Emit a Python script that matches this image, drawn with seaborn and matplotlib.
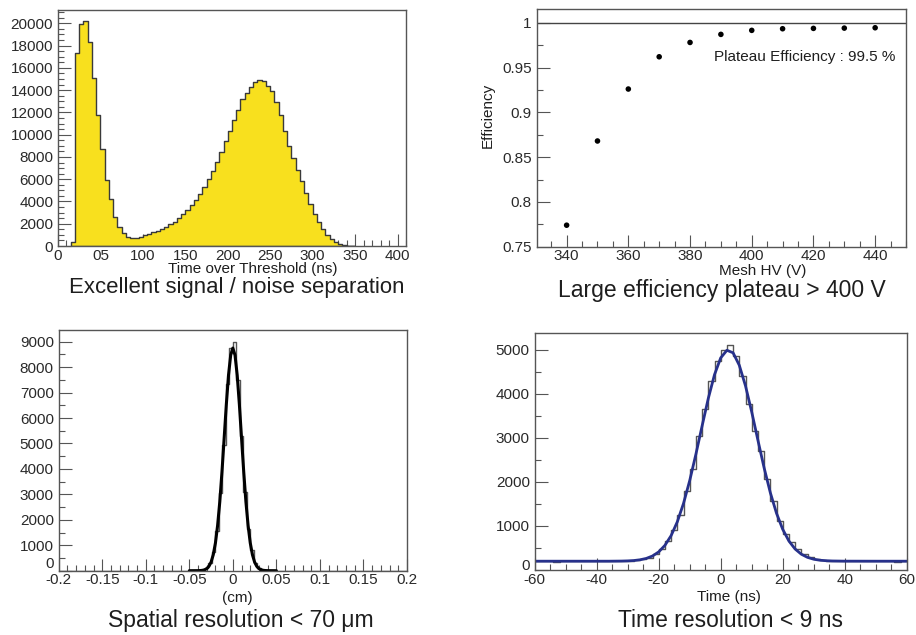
import numpy as np
import matplotlib.pyplot as plt
from matplotlib.ticker import MultipleLocator, FixedLocator, FixedFormatter
import seaborn as sns

# --- time over threshold (5 ns bins, left edges 15..345)
tot_left = np.arange(15, 350, 5)
tot_counts = [400, 17300, 19900, 20200, 18300, 15100, 11800, 8700, 5900, 4200,
              2600, 1700, 1150, 820, 720, 760, 850, 950, 1080, 1220,
              1380, 1540, 1720, 1940, 2200, 2500, 2850, 3250, 3650, 4150,
              4700, 5300, 6000, 6750, 7550, 8450, 9400, 10300, 11300, 12200,
              13200, 13700, 14250, 14700, 14900, 14800, 14400, 13900, 12900, 11800,
              10300, 9000, 7900, 6800, 5800, 4800, 3800, 2900, 2200, 1500,
              1000, 620, 330, 160, 80, 40, 15]

# --- efficiency vs mesh HV
hv = [340, 350, 360, 370, 380, 390, 400, 410, 420, 430, 440]
eff = [0.774, 0.868, 0.926, 0.962, 0.978, 0.987, 0.9915, 0.9933, 0.9937, 0.994, 0.9944]

# --- spatial residuals (0.004 cm bins, only non-empty ones listed)
sp_centers = [-0.038, -0.034, -0.030, -0.026, -0.022, -0.018, -0.014, -0.010, -0.006, -0.002,
              0.002, 0.006, 0.010, 0.014, 0.018, 0.022, 0.026, 0.030, 0.034, 0.038]
sp_counts = [10, 25, 90, 290, 720, 1550, 3050, 4950, 7350, 8750,
             9000, 7500, 5300, 3100, 1650, 800, 310, 100, 30, 10]
sp_fit_x = [-0.05, -0.04, -0.0375, -0.035, -0.0325, -0.03, -0.0275, -0.025, -0.0225, -0.02,
            -0.0175, -0.015, -0.0125, -0.01, -0.0075, -0.005, -0.0025, 0.0,
            0.0025, 0.005, 0.0075, 0.01, 0.0125, 0.015, 0.0175, 0.02, 0.0225,
            0.025, 0.0275, 0.03, 0.0325, 0.035, 0.0375, 0.04, 0.05]
sp_fit_y = [0, 2, 6, 15, 36, 81, 171, 338, 627, 1090,
            1780, 2710, 3880, 5200, 6530, 7680, 8470, 8750,
            8470, 7680, 6530, 5200, 3880, 2710, 1780, 1090, 627,
            338, 171, 81, 36, 15, 6, 2, 0]

# --- time residuals (2 ns bins, left edges -60..58)
tm_left = np.arange(-60, 60, 2)
tm_counts = [195, 205, 198, 192, 203, 200, 196, 207, 199, 194,
             202, 205, 198, 208, 203, 212, 220, 240, 280, 360,
             470, 650, 900, 1250, 1800, 2300, 3050, 3650, 4300, 4750,
             5000, 5100, 4850, 4400, 3760, 3150, 2700, 2060, 1570, 1120,
             820, 640, 470, 360, 300, 240, 220, 210, 205, 196,
             203, 199, 206, 194, 201, 197, 204, 199, 193, 202]
tm_fit_x = [-60, -50, -40, -36, -32, -30, -28, -26, -24, -22, -20, -18, -16, -14, -12,
            -10, -8, -6, -4, -2, 0, 2, 4, 6, 8, 10, 12, 14, 16, 18, 20,
            22, 24, 26, 28, 30, 32, 34, 36, 40, 50, 60]
tm_fit_y = [200, 200, 200, 200, 203, 207, 215, 232, 263, 318, 411, 559, 780, 1094, 1511,
            2030, 2630, 3272, 3898, 4436, 4818, 4991, 4933, 4650, 4183, 3592, 2950, 2322, 1758, 1290, 925,
            659, 477, 359, 287, 245, 222, 211, 205, 201, 200, 200]

sns.set_style("white")
plt.rcParams['font.family'] = ['Liberation Sans', 'DejaVu Sans']

W, H = 916, 635
fig = plt.figure(figsize=(W / 100, H / 100), dpi=100)
TXT = '#1e1e1e'
LAB = '#2a2a2a'


def box(l, t, r, b):
    return fig.add_axes([l / W, 1 - b / H, (r - l) / W, (b - t) / H])


def style(ax):
    for s in ax.spines.values():
        s.set_visible(True)
        s.set_color('#555555')
        s.set_linewidth(1.0)
    ax.tick_params(which='both', direction='in', bottom=True, left=True, top=False, right=False,
                   color='#555555', labelcolor=LAB, labelsize=11, width=0.8)
    ax.tick_params(which='major', length=9)
    ax.tick_params(which='minor', length=4.5)
    ax.tick_params(axis='x', pad=2)
    ax.set_xlabel('')
    ax.set_ylabel('')


def zero_label(ax, up):
    # lowest y label sits a little higher, clear of the x labels (as ROOT draws it)
    ax.annotate('0', xy=(0, 0), xycoords='axes fraction', xytext=(-3.5, up),
                textcoords='offset points', ha='right', va='center',
                fontsize=11, color=LAB)


def ftext(x, y, s, **kw):
    kw.setdefault('color', TXT)
    fig.text(x / W, 1 - y / H, s, **kw)


# top left
ax1 = box(58, 10, 406, 246)
sns.histplot(x=list(tot_left + 2.5), weights=tot_counts, bins=list(range(15, 355, 5)),
             element='step', fill=True, color='#F8E01E', edgecolor='#3a3a3a',
             alpha=1, linewidth=1, ax=ax1)
ax1.set_xlim(0, 410)
ax1.set_ylim(0, 21200)
ax1.xaxis.set_major_locator(FixedLocator(list(range(0, 401, 50))))
ax1.xaxis.set_major_formatter(FixedFormatter(['0', '05', '100', '150', '200', '250', '300', '350', '400']))
ax1.xaxis.set_minor_locator(MultipleLocator(10))
ax1.yaxis.set_major_locator(MultipleLocator(2000))
ax1.yaxis.set_minor_locator(MultipleLocator(500))
style(ax1)
ftext(253, 273, 'Time over Threshold (ns)', ha='center', va='baseline', fontsize=11)
ftext(237, 293, 'Excellent signal / noise separation', ha='center', va='baseline', fontsize=15.9)

# top right
ax2 = box(536.7, 9.3, 906, 246.7)
ax2.axhline(1.0, color='#444444', lw=1)
sns.scatterplot(x=hv, y=eff, color='black', s=16, edgecolor='none', ax=ax2)
ax2.set_xlim(330.3, 450)
ax2.set_ylim(0.75, 1.015)
ax2.xaxis.set_major_locator(FixedLocator(hv[::2]))
ax2.xaxis.set_minor_locator(MultipleLocator(5))
ax2.yaxis.set_major_locator(FixedLocator([0.75, 0.8, 0.85, 0.9, 0.95, 1.0]))
ax2.yaxis.set_major_formatter(FixedFormatter(['0.75', '0.8', '0.85', '0.9', '0.95', '1']))
ax2.yaxis.set_minor_locator(FixedLocator([0.775, 0.825, 0.875, 0.925, 0.975]))
style(ax2)
ftext(714, 61.5, 'Plateau Efficiency : 99.5 %', ha='left', va='baseline', fontsize=11)
ftext(487.5, 115, 'Efficiency', ha='center', va='center', rotation=90, fontsize=11)
ftext(763, 275, 'Mesh HV (V)', ha='center', va='baseline', fontsize=11)
ftext(722, 297, 'Large efficiency plateau > 400 V', ha='center', va='baseline', fontsize=16.5)

# bottom left
ax3 = box(58.7, 330, 407, 570.7)
sns.histplot(x=sp_centers, weights=sp_counts, bins=list(np.linspace(-0.2, 0.2, 101)),
             element='step', fill=False, color='#555555', linewidth=1, ax=ax3)
sns.lineplot(x=sp_fit_x, y=sp_fit_y, color='black', lw=2.2, ax=ax3)
ax3.set_xlim(-0.2, 0.2)
ax3.set_ylim(0, 9460)
sp_ticks = [-0.2, -0.15, -0.1, -0.05, 0, 0.05, 0.1, 0.15, 0.2]
ax3.xaxis.set_major_locator(FixedLocator(sp_ticks))
ax3.xaxis.set_major_formatter(FixedFormatter(['-0.2', '-0.15', '-0.1', '-0.05', '0', '0.05', '0.1', '0.15', '0.2']))
ax3.xaxis.set_minor_locator(FixedLocator([k / 100 for k in range(-20, 21)]))
ax3.yaxis.set_major_locator(FixedLocator(list(range(0, 9001, 1000))))
ax3.yaxis.set_major_formatter(FixedFormatter([''] + [str(v) for v in range(1000, 9001, 1000)]))
ax3.yaxis.set_minor_locator(MultipleLocator(500))
style(ax3)
zero_label(ax3, 5)
ftext(237, 598, '(cm)', ha='center', va='center', fontsize=11)
ftext(241, 627, 'Spatial resolution < 70 \u03bcm', ha='center', va='baseline', fontsize=16.5)

# bottom right
ax4 = box(534.7, 332.7, 906.7, 570)
sns.histplot(x=list(tm_left + 1), weights=tm_counts, bins=list(range(-60, 62, 2)),
             element='step', fill=False, color='#555555', linewidth=1, ax=ax4)
sns.lineplot(x=tm_fit_x, y=tm_fit_y, color='#27318B', lw=2, ax=ax4)
ax4.set_xlim(-60, 60)
ax4.set_ylim(0, 5390)
ax4.xaxis.set_major_locator(FixedLocator([-60, -40, -20, 0, 20, 40, 60]))
ax4.xaxis.set_major_formatter(FixedFormatter(['-60', '-40', '-20', '0', '20', '40', '60']))
ax4.xaxis.set_minor_locator(MultipleLocator(5))
ax4.yaxis.set_major_locator(FixedLocator(list(range(0, 5001, 1000))))
ax4.yaxis.set_major_formatter(FixedFormatter([''] + [str(v) for v in range(1000, 5001, 1000)]))
ax4.yaxis.set_minor_locator(MultipleLocator(500))
style(ax4)
zero_label(ax4, 3)
ftext(729, 597, 'Time (ns)', ha='center', va='center', fontsize=11)
ftext(730, 627, 'Time resolution < 9 ns', ha='center', va='baseline', fontsize=16.5)

fig.savefig('out.png', dpi=100)
